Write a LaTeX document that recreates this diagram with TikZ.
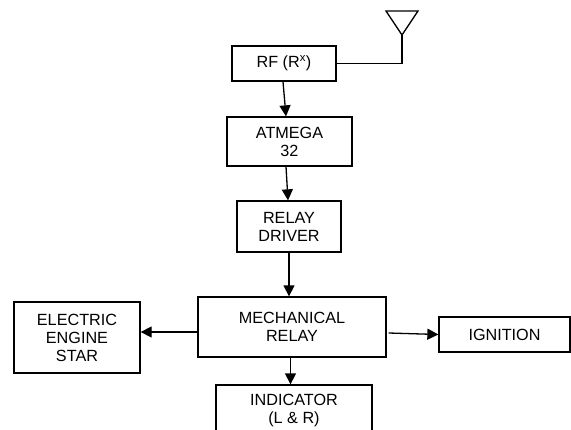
\documentclass[tikz,border=0pt]{standalone}
\usepackage{fontspec}
\setmainfont{Liberation Sans}
\usetikzlibrary{arrows.meta}
\begin{document}
\begin{tikzpicture}[x=1pt,y=-1pt,
  blk/.style={draw,line width=1.3pt,rectangle,inner sep=0pt,align=center,
    font=\fontsize{16.2}{18}\selectfont},
  arr/.style={line width=1.3pt,-{Triangle[length=11pt,width=11pt]}},
  wire/.style={line width=1.3pt}]
\useasboundingbox (0,0) rectangle (571,429);
\clip (0,0) rectangle (571,429);
\node[blk,minimum width=104pt,minimum height=35pt] (rf) at (284,63.5) {RF (R\textsuperscript{x})};
\node[blk,minimum width=125pt,minimum height=49pt] (atm) at (289.5,141.5) {ATMEGA\\32};
\node[blk,minimum width=104pt,minimum height=51pt] (rd) at (289,226.5) {RELAY\\DRIVER};
\node[blk,minimum width=188pt,minimum height=60pt] (mr) at (292,327) {MECHANICAL\\RELAY};
\node[blk,minimum width=126pt,minimum height=71pt] (ees) at (77,337.5) {ELECTRIC\\ENGINE\\STAR};
\node[blk,minimum width=131pt,minimum height=35pt] (ign) at (504.5,334.5) {IGNITION};
\node[blk,minimum width=156pt,minimum height=52pt] (ind) at (294,411) {INDICATOR\\(L \& R)};
% antenna
\coordinate (ant) at (402,35);
\draw[wire,line join=miter] (386,11) -- (418,11) -- (ant) -- cycle;
\draw[wire] (ant) |- (rf.east);
% connectors
\coordinate (mrw) at ([yshift=-5pt]mr.west);
\draw[arr] ([xshift=-1pt]rf.south) -- ([xshift=-3.5pt]atm.north);
\draw[arr] ([xshift=-3.5pt]atm.south) -- ([xshift=-1pt]rd.north);
\draw[arr] (rd.south) -- ([xshift=-3pt]mr.north);
\draw[arr] (mrw) -- (ees.east |- mrw);
\draw[arr] ([xshift=2pt,yshift=-6pt]mr.east) -- (ign.west);
\draw[arr] ([xshift=-1.5pt]mr.south) -- ([xshift=-3.5pt]ind.north);
\end{tikzpicture}
\end{document}
